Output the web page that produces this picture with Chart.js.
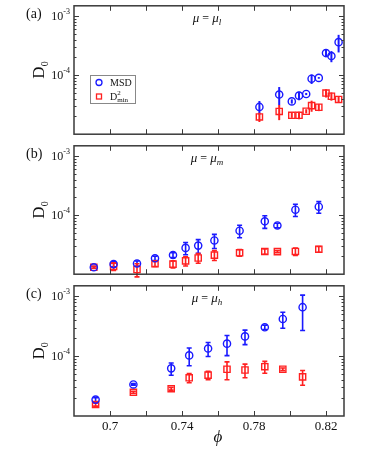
<!DOCTYPE html>
<html>
<head>
<meta charset="utf-8">
<script src="https://cdn.jsdelivr.net/npm/chart.js@4.4.0/dist/chart.umd.min.js"></script>
<style>
  html, body { margin: 0; padding: 0; background: #fff; }
  .panel { position: absolute; left: 0; width: 390px; }
</style>
</head>
<body>
<div class="panel" style="top:0;height:140px"><canvas id="chartA" width="390" height="140"></canvas></div>
<div class="panel" style="top:140px;height:140px"><canvas id="chartB" width="390" height="140"></canvas></div>
<div class="panel" style="top:280px;height:170px"><canvas id="chartC" width="390" height="170"></canvas></div>
<script>
// panel (a), mu = mu_l
const phiA = [0.783, 0.794, 0.801, 0.805, 0.809, 0.812, 0.816, 0.820, 0.823, 0.827];
const msdA = [2.9e-5, 4.7e-5, 3.6e-5, 4.5e-5, 4.8e-5, 8.7e-5, 9.0e-5, 2.37e-4, 2.11e-4, 3.63e-4];
const msdErrA = [0.75e-5, 1.6e-5, 0.3e-5, 0.75e-5, 0.2e-5, 1.6e-5, 0.3e-5, 3.0e-5, 4.5e-5, 1.2e-4];
const d2minA = [1.96e-5, 2.43e-5, 2.09e-5, 2.09e-5, 2.45e-5, 3.05e-5, 2.86e-5, 4.98e-5, 4.40e-5, 3.88e-5];
const d2minErrA = [0.35e-5, 0.7e-5, 0.2e-5, 0.3e-5, 0.2e-5, 0.65e-5, 0.4e-5, 0.8e-5, 0.7e-5, 0.4e-5];

// panel (b), mu = mu_m
const phiB = [0.691, 0.702, 0.715, 0.725, 0.735, 0.742, 0.749, 0.758, 0.772, 0.786, 0.793, 0.803, 0.816];
const msdB = [1.31e-5, 1.48e-5, 1.52e-5, 1.86e-5, 2.11e-5, 2.79e-5, 3.05e-5, 3.73e-5, 5.45e-5, 7.87e-5, 6.69e-5, 1.24e-4, 1.39e-4];
const msdErrB = [0.05e-5, 0.15e-5, 0.15e-5, 0.15e-5, 0.2e-5, 0.65e-5, 0.8e-5, 1.0e-5, 1.3e-5, 1.9e-5, 0.6e-5, 2.9e-5, 3.1e-5];
const d2minB = [1.31e-5, 1.36e-5, 1.20e-5, 1.50e-5, 1.48e-5, 1.68e-5, 1.88e-5, 2.11e-5, 2.31e-5, 2.43e-5, 2.41e-5, 2.43e-5, 2.65e-5];
const d2minErrB = [0.05e-5, 0.2e-5, 0.3e-5, 0.15e-5, 0.2e-5, 0.3e-5, 0.35e-5, 0.4e-5, 0.3e-5, 0.25e-5, 0.1e-5, 0.35e-5, 0.3e-5];

// panel (c), mu = mu_h
const phiC = [0.692, 0.713, 0.734, 0.744, 0.7545, 0.765, 0.775, 0.786, 0.796, 0.807];
const msdC = [1.88e-5, 3.37e-5, 6.26e-5, 1.03e-4, 1.34e-4, 1.62e-4, 2.14e-4, 3.04e-4, 4.18e-4, 6.59e-4];
const msdErrC = [0.15e-5, 0.1e-5, 1.45e-5, 3.4e-5, 3.5e-5, 6.0e-5, 5.8e-5, 2.5e-5, 1.25e-4, 3.9e-4];
const d2minC = [1.56e-5, 2.49e-5, 2.86e-5, 4.35e-5, 4.81e-5, 6.04e-5, 5.87e-5, 6.67e-5, 6.04e-5, 4.51e-5];
const d2minErrC = [0.1e-5, 0.1e-5, 0.15e-5, 0.75e-5, 0.75e-5, 2.0e-5, 1.5e-5, 1.5e-5, 0.3e-5, 1.25e-5];

// axes
const xTicks = [0.70, 0.72, 0.74, 0.76, 0.78, 0.80, 0.82];
const xTickLabels = ['0.7', '0.74', '0.78', '0.82'];
const xLabelValues = [0.70, 0.74, 0.78, 0.82];
const yMajorTicks = [1e-3, 1e-4];
const yMajorExps = ['-3', '-4'];

const BLUE = '#1a1aff';
const RED = '#ff2020';
const AXIS = '#3a3a3a';
const SERIF = '"Liberation Serif", "Times New Roman", serif';

const yMinor = [];
for (const dec of [1e-5, 1e-4, 1e-3]) {
  for (let m = 2; m <= 9; m++) {
    if (m * dec <= 1.5e-3) yMinor.push(m * dec);
  }
}

function drawPow(ctx, xr, y, exp) {
  ctx.font = '12px ' + SERIF;
  const w1 = ctx.measureText('10').width;
  ctx.font = '8px ' + SERIF;
  const w2 = ctx.measureText(exp).width;
  const x0 = xr - w1 - w2;
  ctx.textAlign = 'left';
  ctx.textBaseline = 'middle';
  ctx.font = '12px ' + SERIF;
  ctx.fillText('10', x0, y + 1);
  ctx.font = '8px ' + SERIF;
  ctx.fillText(exp, x0 + w1, y - 4);
}

function drawTitle(ctx, cx, y, sub) {
  ctx.textBaseline = 'alphabetic';
  ctx.textAlign = 'left';
  const main = '12px ' + SERIF;
  const it = 'italic 13px ' + SERIF;
  const subf = 'italic 9px ' + SERIF;
  ctx.font = it; const a = ctx.measureText('\u03bc').width;
  ctx.font = main; const b = ctx.measureText(' = ').width;
  ctx.font = subf; const d = ctx.measureText(sub).width;
  let x = cx - (2 * a + b + d) / 2;
  ctx.font = it; ctx.fillText('\u03bc', x, y); x += a;
  ctx.font = main; ctx.fillText(' = ', x, y); x += b;
  ctx.font = it; ctx.fillText('\u03bc', x, y); x += a;
  ctx.font = subf; ctx.fillText(sub, x, y + 3);
}

function makePanel(id, opt) {
  const errBars = {
    id: 'errBars',
    beforeDatasetsDraw(chart) {
      const { ctx, scales: { x, y } } = chart;
      const sets = [
        { v: opt.msd, e: opt.msdErr, c: BLUE },
        { v: opt.d2min, e: opt.d2minErr, c: RED }
      ];
      ctx.save();
      ctx.lineWidth = opt.caps ? 1.6 : 2;
      sets.forEach(s => {
        ctx.strokeStyle = s.c;
        opt.phi.forEach((p, i) => {
          const px = x.getPixelForValue(p);
          const top = y.getPixelForValue(s.v[i] + s.e[i]);
          const bot = y.getPixelForValue(Math.max(s.v[i] - s.e[i], 1e-6));
          ctx.beginPath();
          ctx.moveTo(px, top); ctx.lineTo(px, bot);
          if (opt.caps) {
            ctx.moveTo(px - 2.5, top); ctx.lineTo(px + 2.5, top);
            ctx.moveTo(px - 2.5, bot); ctx.lineTo(px + 2.5, bot);
          }
          ctx.stroke();
        });
      });
      ctx.restore();
    }
  };

  const frame = {
    id: 'frame',
    afterDraw(chart) {
      const { ctx, chartArea: a, scales: { x, y } } = chart;
      ctx.save();
      ctx.strokeStyle = AXIS;
      ctx.fillStyle = '#111';
      ctx.lineWidth = 1.5;
      ctx.strokeRect(a.left, a.top, a.right - a.left, a.bottom - a.top);
      ctx.lineWidth = 1;
      ctx.beginPath();
      xTicks.forEach(v => {
        const px = Math.round(x.getPixelForValue(v)) + 0.5;
        ctx.moveTo(px, a.bottom); ctx.lineTo(px, a.bottom - 5);
        ctx.moveTo(px, a.top); ctx.lineTo(px, a.top + 5);
      });
      yMajorTicks.forEach(v => {
        const py = Math.round(y.getPixelForValue(v)) + 0.5;
        ctx.moveTo(a.left, py); ctx.lineTo(a.left + 5, py);
        ctx.moveTo(a.right, py); ctx.lineTo(a.right - 5, py);
      });
      yMinor.forEach(v => {
        const py = Math.round(y.getPixelForValue(v)) + 0.5;
        ctx.moveTo(a.left, py); ctx.lineTo(a.left + 2.5, py);
        ctx.moveTo(a.right, py); ctx.lineTo(a.right - 2.5, py);
      });
      ctx.stroke();

      yMajorTicks.forEach((v, i) => drawPow(ctx, a.left - 4, y.getPixelForValue(v), yMajorExps[i]));

      // y axis title D_0
      ctx.save();
      ctx.translate(a.left - 30, (a.top + a.bottom) / 2);
      ctx.rotate(-Math.PI / 2);
      ctx.textAlign = 'left';
      ctx.textBaseline = 'alphabetic';
      ctx.font = '17px ' + SERIF;
      const wd = ctx.measureText('D').width;
      ctx.font = '10px ' + SERIF;
      const w0 = ctx.measureText('0').width;
      ctx.font = '17px ' + SERIF;
      ctx.fillText('D', -(wd + w0) / 2, 0);
      ctx.font = '10px ' + SERIF;
      ctx.fillText('0', -(wd + w0) / 2 + wd, 4);
      ctx.restore();

      // panel letter
      ctx.font = '14px ' + SERIF;
      ctx.textAlign = 'left';
      ctx.textBaseline = 'alphabetic';
      ctx.fillText(opt.letter, 26, a.top + 12);

      drawTitle(ctx, 207, a.top + 16, opt.sub);

      if (opt.xlabels) {
        ctx.font = '13px ' + SERIF;
        ctx.textAlign = 'center';
        ctx.textBaseline = 'top';
        xLabelValues.forEach((v, i) => ctx.fillText(xTickLabels[i], x.getPixelForValue(v), a.bottom + 4));
        ctx.font = 'italic 17px ' + SERIF;
        ctx.textBaseline = 'middle';
        ctx.fillText('\u03d5', 218, a.bottom + 22);
      }

      if (opt.legend) {
        const lx = 90, ly = 75, lw = 45, lh = 28;
        ctx.fillStyle = '#fff';
        ctx.fillRect(lx, ly, lw, lh);
        ctx.strokeStyle = '#888';
        ctx.lineWidth = 1;
        ctx.strokeRect(lx + 0.5, ly + 0.5, lw, lh);
        ctx.lineWidth = 1.3;
        ctx.strokeStyle = BLUE;
        ctx.beginPath(); ctx.arc(99, 82.5, 3, 0, Math.PI * 2); ctx.stroke();
        ctx.strokeStyle = RED;
        ctx.strokeRect(96.5, 94, 5, 5);
        ctx.fillStyle = '#111';
        ctx.textAlign = 'left';
        ctx.textBaseline = 'middle';
        ctx.font = '10px ' + SERIF;
        ctx.fillText('MSD', 110, 83);
        ctx.fillText('D', 110, 97.5);
        const wD = ctx.measureText('D').width;
        ctx.font = '7px ' + SERIF;
        ctx.fillText('2', 110 + wD, 93);
        ctx.fillText('min', 110 + wD, 100);
      }
      ctx.restore();
    }
  };

  return new Chart(document.getElementById(id), {
    type: 'scatter',
    data: {
      datasets: [
        {
          label: 'MSD',
          data: opt.phi.map((p, i) => ({ x: p, y: opt.msd[i] })),
          pointStyle: 'circle',
          pointRadius: 3.6,
          borderColor: BLUE,
          backgroundColor: 'rgba(0,0,0,0)',
          borderWidth: 1.4
        },
        {
          label: 'D2min',
          data: opt.phi.map((p, i) => ({ x: p, y: opt.d2min[i] })),
          pointStyle: 'rect',
          pointRadius: 4.4,
          borderColor: RED,
          backgroundColor: 'rgba(0,0,0,0)',
          borderWidth: 1.4
        }
      ]
    },
    options: {
      responsive: false,
      animation: false,
      events: [],
      layout: { padding: { left: 74, right: 46, top: opt.padTop, bottom: opt.padBottom } },
      scales: {
        x: { type: 'linear', min: 0.68, max: 0.83, display: false },
        y: { type: 'logarithmic', min: 1e-5, max: 1.5e-3, display: false }
      },
      plugins: { legend: { display: false }, tooltip: { enabled: false } }
    },
    plugins: [errBars, frame]
  });
}

makePanel('chartA', {
  phi: phiA, msd: msdA, msdErr: msdErrA, d2min: d2minA, d2minErr: d2minErrA,
  letter: '(a)', sub: 'l', padTop: 4, padBottom: 4, legend: true, caps: false
});
makePanel('chartB', {
  phi: phiB, msd: msdB, msdErr: msdErrB, d2min: d2minB, d2minErr: d2minErrB,
  letter: '(b)', sub: 'm', padTop: 3, padBottom: 4, caps: true
});
makePanel('chartC', {
  phi: phiC, msd: msdC, msdErr: msdErrC, d2min: d2minC, d2minErr: d2minErrC,
  letter: '(c)', sub: 'h', padTop: 3.5, padBottom: 34, xlabels: true, caps: true
});
</script>
</body>
</html>
